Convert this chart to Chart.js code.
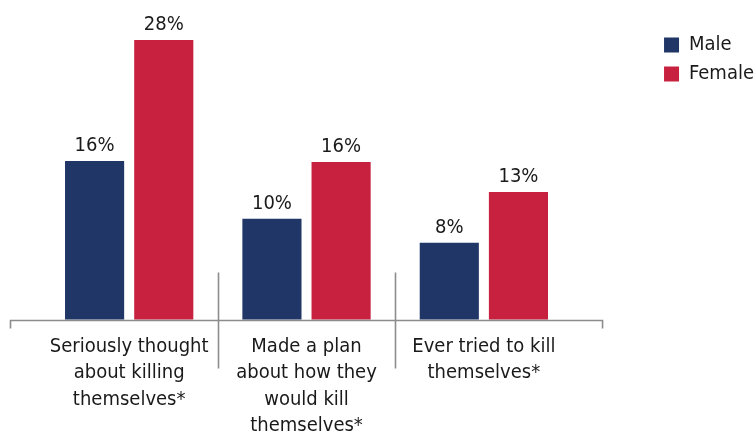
<!DOCTYPE html>
<html>
<head>
<meta charset="utf-8">
<script src="https://cdn.jsdelivr.net/npm/chart.js@4"></script>
<style>
  html, body { margin: 0; padding: 0; background: #ffffff; }
  #wrap { width: 756px; height: 445px; position: relative; }
</style>
</head>
<body>
<div id="wrap"><canvas id="c"></canvas></div>
<script>
// ---- data ----
const categories = [
  ['Seriously thought', 'about killing', 'themselves*'],
  ['Made a plan', 'about how they', 'would kill', 'themselves*'],
  ['Ever tried to kill', 'themselves*']
];
const seriesNames = ['Male', 'Female'];
const maleValues = [15.9, 10.1, 7.7];
const femaleValues = [28.0, 15.8, 12.8];

// ---- styles ----
const FONT = "'DejaVu Sans Condensed', 'DejaVu Sans', sans-serif";
const MALE_COLOR = '#1F3667';
const FEMALE_COLOR = '#C8203F';
const AXIS_COLOR = '#8C8C8C';
const TEXT_COLOR = '#1A1A1A';

const valueLabels = {
  id: 'valueLabels',
  afterDatasetsDraw(chart) {
    const ctx = chart.ctx;
    ctx.save();
    ctx.font = '20px ' + FONT;
    ctx.fillStyle = TEXT_COLOR;
    ctx.textAlign = 'center';
    ctx.textBaseline = 'alphabetic';
    chart.data.datasets.forEach((ds, i) => {
      const meta = chart.getDatasetMeta(i);
      meta.data.forEach((bar, j) => {
        ctx.fillText(Math.round(ds.data[j]) + '%', bar.x, bar.y - 10);
      });
    });
    ctx.restore();
  }
};

const axisLines = {
  id: 'axisLines',
  afterDatasetsDraw(chart) {
    const ctx = chart.ctx;
    const area = chart.chartArea;
    const xs = chart.scales.x;
    const y = Math.round(area.bottom) + 0.5;
    const ext = 30;
    const left = area.left - ext;
    const right = area.right + ext;
    ctx.save();
    ctx.strokeStyle = AXIS_COLOR;
    ctx.lineWidth = 1.6;
    ctx.beginPath();
    ctx.moveTo(left, y + 8);
    ctx.lineTo(left, y);
    ctx.lineTo(right, y);
    ctx.lineTo(right, y + 8);
    ctx.stroke();
    for (let i = 0; i < categories.length - 1; i++) {
      const xm = Math.round((xs.getPixelForValue(i) + xs.getPixelForValue(i + 1)) / 2) + 0.5;
      ctx.beginPath();
      ctx.moveTo(xm, y - 48);
      ctx.lineTo(xm, y + 48);
      ctx.stroke();
    }
    ctx.restore();
  }
};

new Chart(document.getElementById('c'), {
  type: 'bar',
  data: {
    labels: categories,
    datasets: [
      { label: seriesNames[0], data: maleValues, backgroundColor: MALE_COLOR },
      { label: seriesNames[1], data: femaleValues, backgroundColor: FEMALE_COLOR }
    ]
  },
  options: {
    responsive: true,
    maintainAspectRatio: false,
    animation: false,
    devicePixelRatio: 1,
    categoryPercentage: 0.78,
    barPercentage: 0.855,
    layout: { padding: { left: 40.5, top: 26, right: -8, bottom: -8 } },
    scales: {
      x: {
        grid: { display: false, drawTicks: false },
        border: { display: false },
        ticks: {
          color: TEXT_COLOR,
          padding: 14,
          maxRotation: 0,
          autoSkip: false,
          font: { family: FONT, size: 20, lineHeight: 1.315 }
        }
      },
      y: {
        display: false,
        min: 0,
        max: 29.4
      }
    },
    plugins: {
      tooltip: { enabled: false },
      title: {
        display: true,
        position: 'right',
        text: ' ',
        color: 'rgba(0,0,0,0)',
        font: { size: 1, lineHeight: 1 },
        padding: { top: 0, bottom: 81.5 },
        weight: 2000
      },
      legend: {
        position: 'right',
        align: 'start',
        weight: 3000,
        labels: {
          color: TEXT_COLOR,
          boxWidth: 15,
          boxHeight: 15,
          padding: 9,
          font: { family: FONT, size: 20 }
        }
      }
    }
  },
  plugins: [valueLabels, axisLines]
});
</script>
</body>
</html>
